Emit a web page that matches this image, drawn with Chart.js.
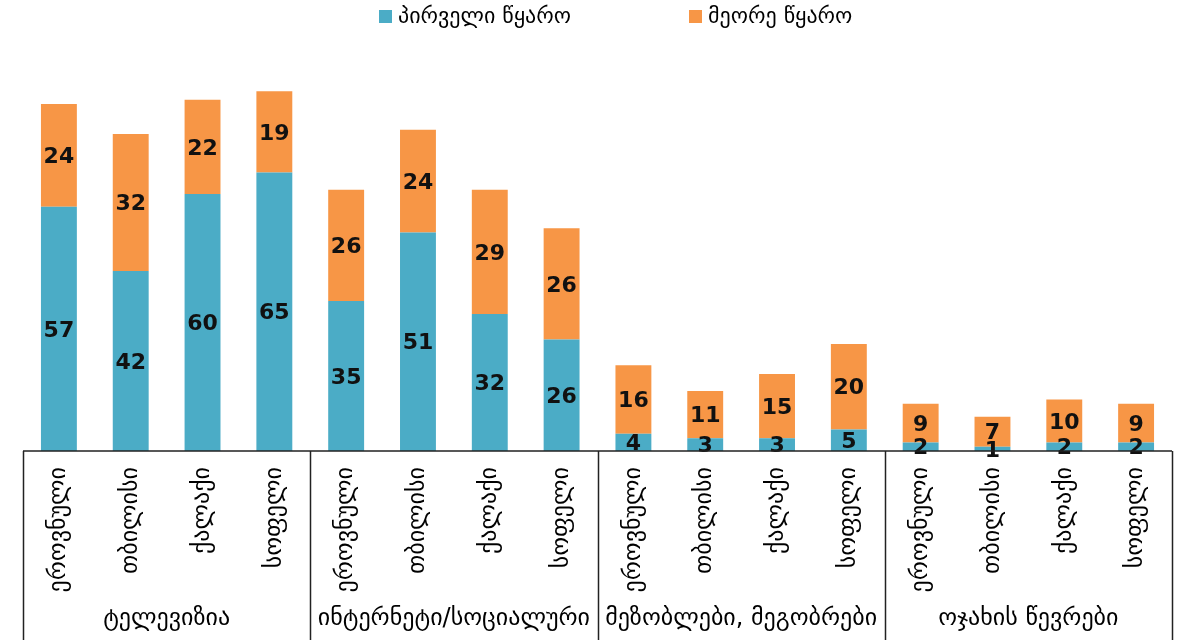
<!DOCTYPE html>
<html>
<head>
<meta charset="utf-8">
<script src="https://cdn.jsdelivr.net/npm/chart.js@4.4.1/dist/chart.umd.min.js"></script>
<style>
  html, body { margin: 0; padding: 0; background: #fff; }
  #wrap { width: 1185px; height: 640px; }
</style>
</head>
<body>
<div id="wrap"><canvas id="myChart"></canvas></div>
<script>
/* globals Chart:false */
(() => {
    "use strict";

    const groups = ["ტელევიზია", "ინტერნეტი/სოციალური", "მეზობლები, მეგობრები", "ოჯახის წევრები"];
    const subCategories = ["ეროვნული", "თბილისი", "ქალაქი", "სოფელი"];
    const firstSource = [57, 42, 60, 65, 35, 51, 32, 26, 4, 3, 3, 5, 2, 1, 2, 2];
    const secondSource = [24, 32, 22, 19, 26, 24, 29, 26, 16, 11, 15, 20, 9, 7, 10, 9];
    const seriesNames = ["პირველი წყარო", "მეორე წყარო"];

    const labels = [];
    groups.forEach(() => subCategories.forEach((s) => labels.push(s)));

    const FONT = "'DejaVu Sans', sans-serif";

    // values in the middle of each segment
    const valueLabels = {
        id: "valueLabels",
        afterDatasetsDraw(chart) {
            const ctx = chart.ctx;
            ctx.save();
            ctx.font = "bold 22px " + FONT;
            ctx.fillStyle = "#111";
            ctx.textAlign = "center";
            ctx.textBaseline = "middle";
            chart.data.datasets.forEach((ds, i) => {
                chart.getDatasetMeta(i).data.forEach((bar, j) => {
                    const mid = (bar.y + bar.base) / 2;
                    ctx.fillText(String(ds.data[j]), bar.x, mid + 2);
                });
            });
            ctx.restore();
        },
    };

    // group box under the axis + group names + legend
    const groupBox = {
        id: "groupBox",
        afterDraw(chart) {
            const ctx = chart.ctx;
            const x = chart.scales.x;
            const area = chart.chartArea;
            const step = x.getPixelForValue(1) - x.getPixelForValue(0);
            const n = subCategories.length;
            ctx.save();
            ctx.strokeStyle = "#222";
            ctx.lineWidth = 1.5;
            ctx.beginPath();
            ctx.moveTo(area.left, area.bottom);
            ctx.lineTo(area.right, area.bottom);
            for (let g = 0; g <= groups.length; g++) {
                const px = Math.round(x.getPixelForValue(g * n) - step / 2) + 0.5;
                ctx.moveTo(px, area.bottom);
                ctx.lineTo(px, chart.height);
            }
            ctx.stroke();

            ctx.font = "24px " + FONT;
            ctx.fillStyle = "#000";
            ctx.textAlign = "center";
            ctx.textBaseline = "middle";
            groups.forEach((g, i) => {
                const cx = (x.getPixelForValue(i * n) + x.getPixelForValue(i * n + n - 1)) / 2;
                ctx.fillText(g, cx, 619);
            });

            // legend
            const legendX = [379, 689];
            ctx.font = "22px " + FONT;
            ctx.textAlign = "left";
            chart.data.datasets.forEach((ds, i) => {
                ctx.fillStyle = ds.backgroundColor;
                ctx.fillRect(legendX[i], 10, 13, 13);
                ctx.fillStyle = "#000";
                ctx.fillText(ds.label, legendX[i] + 19, 17);
            });
            ctx.restore();
        },
    };

    const ctx = document.getElementById("myChart");
    // eslint-disable-next-line no-unused-vars
    const myChart = new Chart(ctx, {
        type: "bar",
        data: {
            labels: labels,
            datasets: [
                {
                    label: seriesNames[0],
                    data: firstSource,
                    backgroundColor: "#4BACC6",
                },
                {
                    label: seriesNames[1],
                    data: secondSource,
                    backgroundColor: "#F79646",
                },
            ],
        },
        options: {
            responsive: true,
            maintainAspectRatio: false,
            animation: false,
            barPercentage: 0.5,
            categoryPercentage: 1,
            layout: {
                padding: { left: 23, right: 13, top: 44, bottom: 0 },
            },
            scales: {
                x: {
                    stacked: true,
                    grid: { display: false, drawTicks: false },
                    border: { display: false },
                    ticks: {
                        autoSkip: false,
                        maxRotation: 90,
                        minRotation: 90,
                        padding: 16,
                        color: "#000",
                        font: { family: FONT, size: 24 },
                    },
                    afterFit(scale) {
                        scale.height = 189;
                    },
                },
                y: {
                    stacked: true,
                    display: false,
                    min: 0,
                    max: 95,
                },
            },
            plugins: {
                legend: { display: false },
                tooltip: { enabled: false },
            },
        },
        plugins: [valueLabels, groupBox],
    });
})();
</script>
</body>
</html>
